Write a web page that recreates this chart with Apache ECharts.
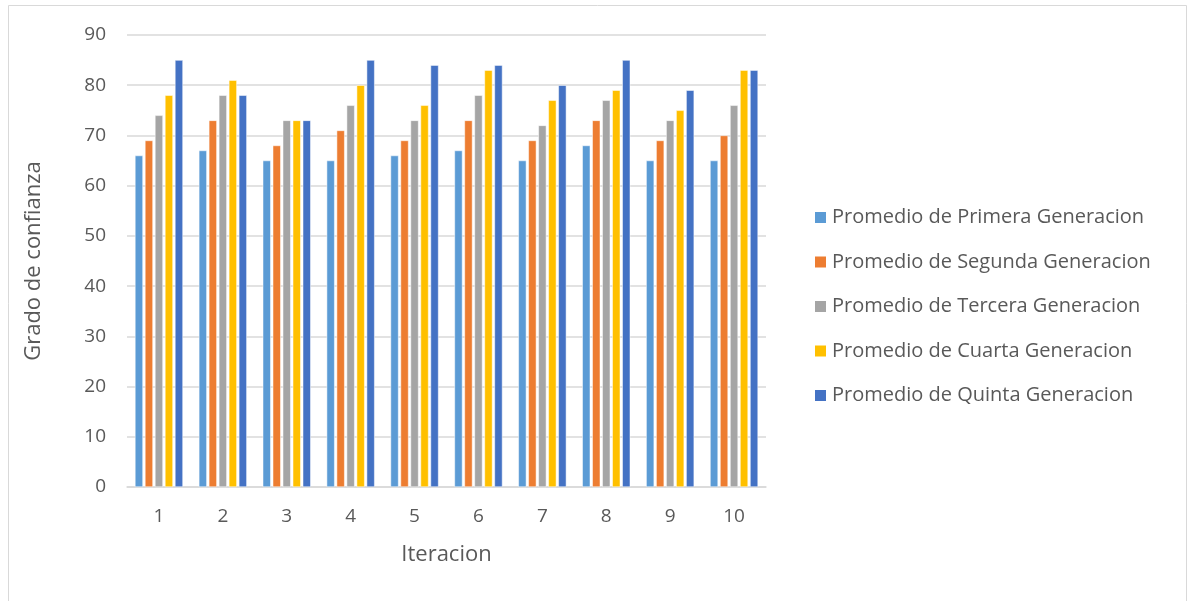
<!DOCTYPE html>
<html>
<head>
<meta charset="utf-8">
<script src="https://cdn.jsdelivr.net/npm/echarts@6/dist/echarts.min.js"></script>
<style>
  html, body { margin: 0; padding: 0; background: #fff; }
  #chart { width: 1190px; height: 601px; }
</style>
</head>
<body>
<div id="chart"></div>
<script>
// Iteration numbers on the x axis
const iteraciones = ['1', '2', '3', '4', '5', '6', '7', '8', '9', '10'];

// Average confidence per generation, one array per series
const primera  = [66, 67, 65, 65, 66, 67, 65, 68, 65, 65];
const segunda  = [69, 73, 68, 71, 69, 73, 69, 73, 69, 70];
const tercera  = [74, 78, 73, 76, 73, 78, 72, 77, 73, 76];
const cuarta   = [78, 81, 73, 80, 76, 83, 77, 79, 75, 83];
const quinta   = [85, 78, 73, 85, 84, 84, 80, 85, 79, 83];

const nombres = [
  'Promedio de Primera Generacion',
  'Promedio de Segunda Generacion',
  'Promedio de Tercera Generacion',
  'Promedio de Cuarta Generacion',
  'Promedio de Quinta Generacion'
];
const colores = ['#5B9BD5', '#ED7D31', '#A5A5A5', '#FFC000', '#4472C4'];
const valores = [primera, segunda, tercera, cuarta, quinta];

const FONT = '"Open Sans", "Noto Sans", sans-serif';
const TEXT = '#595959';

const chart = echarts.init(document.getElementById('chart'), null, { renderer: 'canvas' });

chart.setOption({
  animation: false,
  backgroundColor: '#ffffff',
  textStyle: { fontFamily: FONT, color: TEXT },
  graphic: [{
    type: 'rect',
    shape: { x: 8.5, y: 5.5, width: 1178, height: 620 },
    style: { fill: 'none', stroke: '#d9d9d9', lineWidth: 1 },
    silent: true
  }],
  grid: { left: 127, right: 424, top: 35, bottom: 114, containLabel: false },
  legend: {
    orient: 'vertical',
    left: 808,
    top: 199,
    itemWidth: 13,
    itemHeight: 13,
    itemGap: 17.5,
    icon: 'rect',
    textStyle: { fontFamily: FONT, fontSize: 20, color: TEXT, lineHeight: 27 },
    data: nombres
  },
  xAxis: {
    type: 'category',
    data: iteraciones,
    name: 'Iteracion',
    nameLocation: 'middle',
    nameGap: 57,
    nameTextStyle: { fontFamily: FONT, fontSize: 22, color: TEXT },
    axisLine: { lineStyle: { color: '#d9d9d9', width: 1.5 } },
    axisTick: { show: false },
    axisLabel: { fontFamily: FONT, fontSize: 19, color: TEXT, margin: 20 }
  },
  yAxis: {
    type: 'value',
    min: 0,
    max: 90,
    interval: 10,
    name: 'Grado de confianza',
    nameLocation: 'middle',
    nameGap: 82,
    nameTextStyle: { fontFamily: FONT, fontSize: 22, color: TEXT },
    axisLine: { show: false },
    axisTick: { show: false },
    axisLabel: { fontFamily: FONT, fontSize: 19, color: TEXT, margin: 21 },
    splitLine: { lineStyle: { color: '#d9d9d9', width: 1.5 } }
  },
  series: valores.map((v, i) => ({
    name: nombres[i],
    type: 'bar',
    data: v,
    barWidth: 8,
    barGap: '25%',
    itemStyle: { color: colores[i], borderColor: '#ffffff', borderWidth: 0.5 }
  }))
});
</script>
</body>
</html>
